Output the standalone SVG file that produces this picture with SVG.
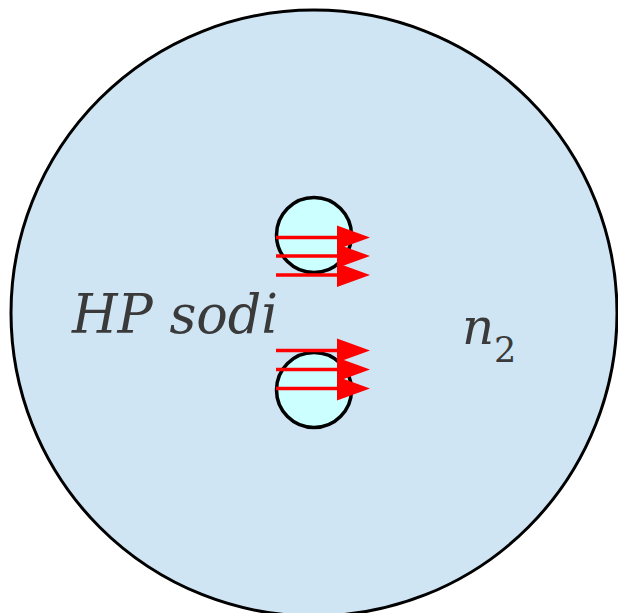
<svg xmlns="http://www.w3.org/2000/svg" width="618" height="613" viewBox="0 0 618 613">
<style>
.lbl{fill:#3a3a3a;font-family:'DejaVu Serif','Liberation Serif',serif}
.arr{stroke:#ff0000;stroke-width:3.5;fill:none}
.head{fill:#ff0000}
</style>
<rect width="618" height="613" fill="#ffffff"/>
<g id="outer"><circle cx="314" cy="313" r="303" fill="#cfe5f3" stroke="#000" stroke-width="3"/></g>
<g id="core-top"><circle cx="314" cy="235" r="37.5" fill="#ccffff" stroke="#000" stroke-width="3.5"/></g>
<g id="core-bottom"><circle cx="314" cy="390" r="37.5" fill="#ccffff" stroke="#000" stroke-width="3.5"/></g>
<g id="connectors">
<line class="arr" x1="276" y1="237.5" x2="340" y2="237.5"/><polygon class="head" points="337,225.5 370,237.5 337,249.5"/>
<line class="arr" x1="276" y1="256" x2="340" y2="256"/><polygon class="head" points="337,244 370,256 337,268"/>
<line class="arr" x1="276" y1="275" x2="340" y2="275"/><polygon class="head" points="337,263 370,275 337,287"/>
<line class="arr" x1="276" y1="350.5" x2="340" y2="350.5"/><polygon class="head" points="337,338.5 370,350.5 337,362.5"/>
<line class="arr" x1="276" y1="369.5" x2="340" y2="369.5"/><polygon class="head" points="337,357.5 370,369.5 337,381.5"/>
<line class="arr" x1="276" y1="388.5" x2="340" y2="388.5"/><polygon class="head" points="337,376.5 370,388.5 337,400.5"/>
</g>
<g id="label-hp"><text class="lbl" x="72" y="333" font-size="55" font-style="italic" textLength="206" lengthAdjust="spacingAndGlyphs">HP sodi</text></g>
<g id="label-n2"><text class="lbl" x="462" y="344" font-size="50" font-style="italic">n</text><text class="lbl" x="494" y="362" font-size="35">2</text></g>
</svg>
